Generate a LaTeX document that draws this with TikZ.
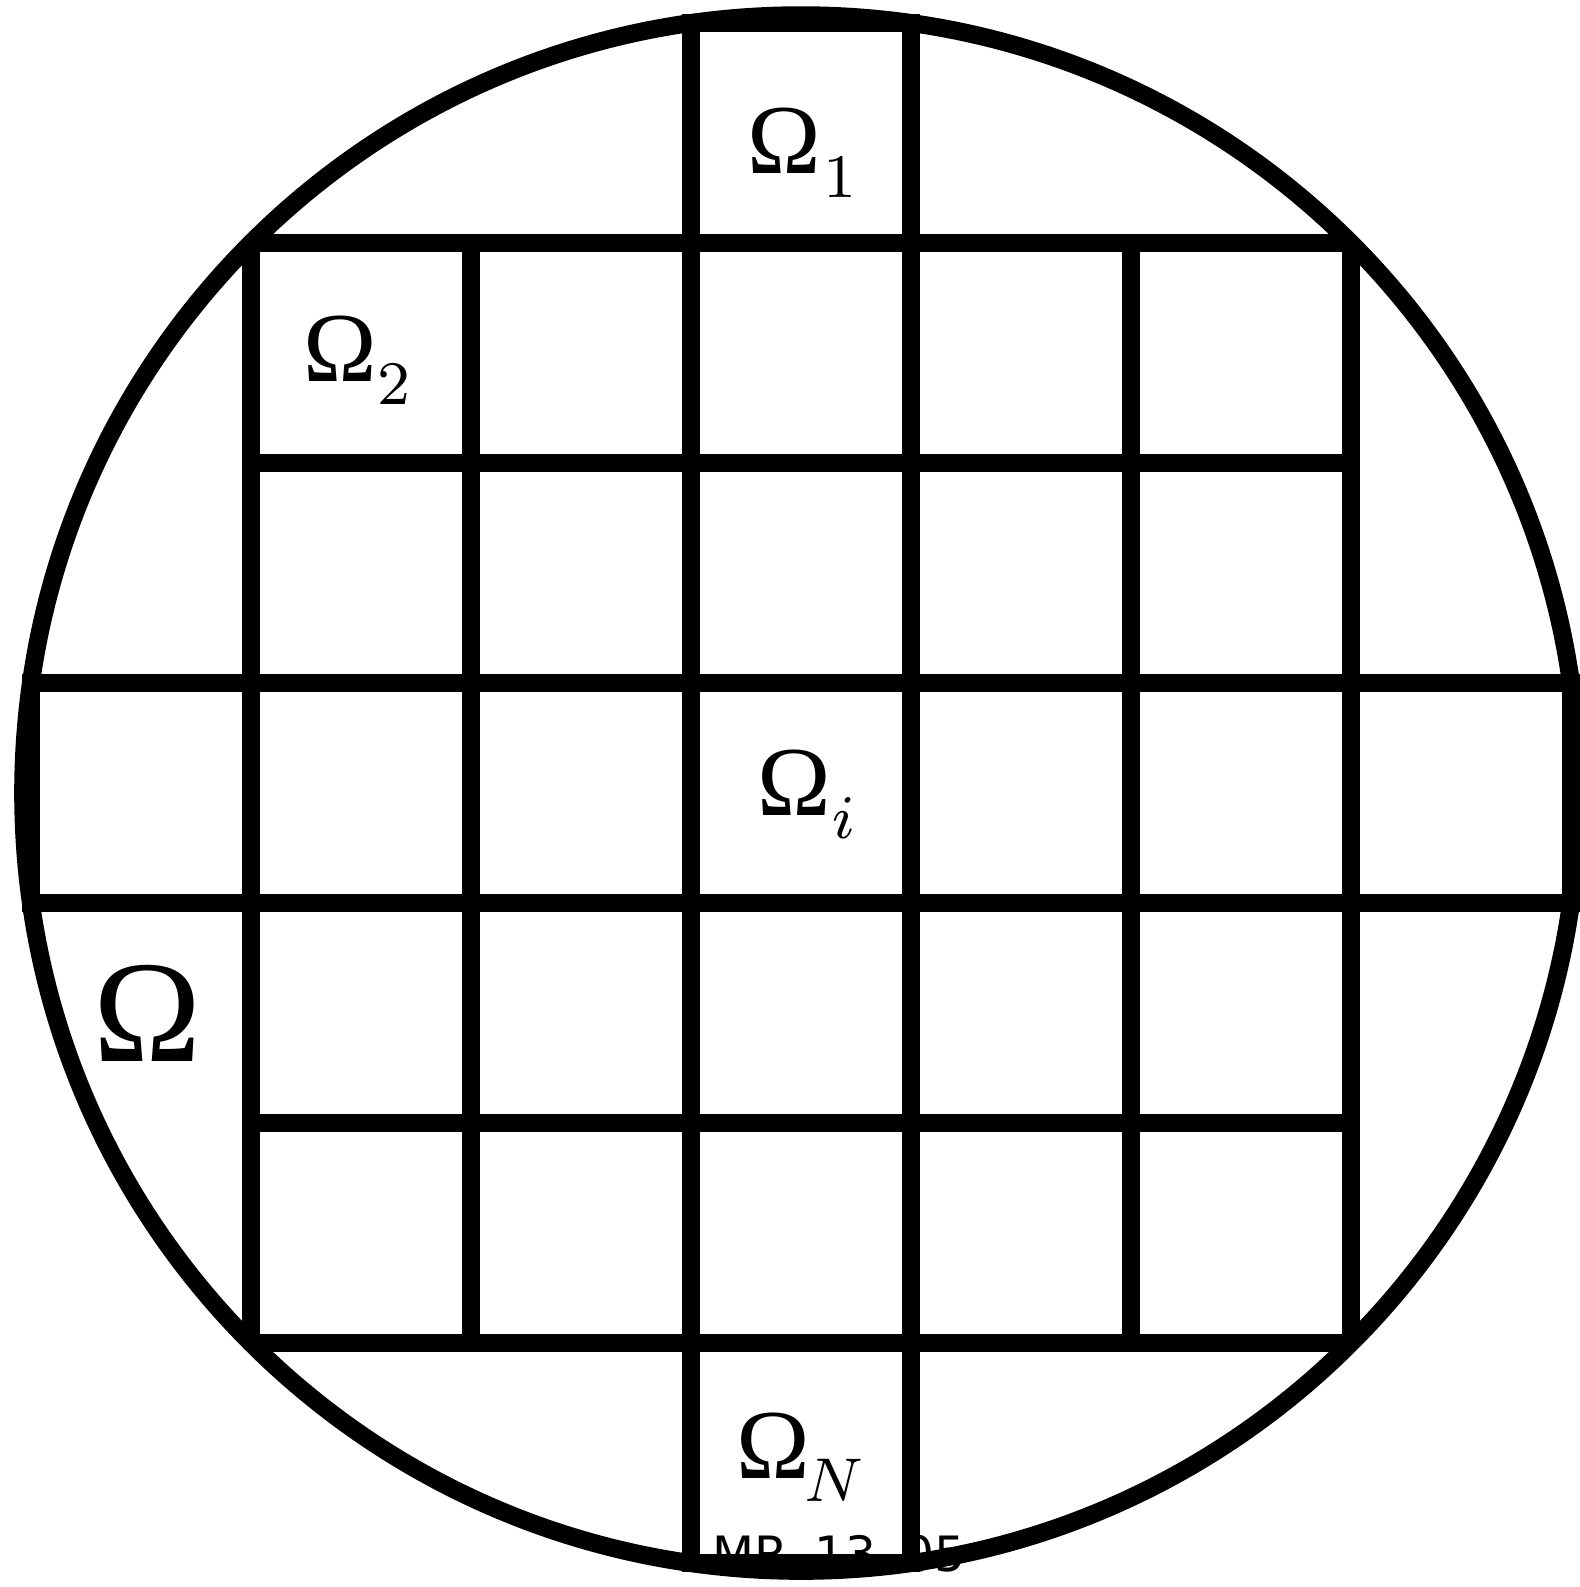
\documentclass[tikz,border=0pt]{standalone}
\usepackage{fontspec}
\usepackage{amsmath}
\usetikzlibrary{positioning}
\newfontfamily\stampfont{DejaVu Sans}
\newfontfamily\omfont{Liberation Serif}

% subdomain label: Omega with a lowered subscript
\newcommand{\subdom}[2][0pt]{{\omfont\fontsize{12.8}{15}\selectfont Ω}\kern#1\raisebox{-3pt}{\fontsize{8.4}{10}\selectfont$#2$}}

\tikzset{
  wall/.style={line width=0.0818cm, black},
  sublbl/.style={inner sep=0pt, anchor=base west},
  biglbl/.style={inner sep=0pt, anchor=base west, font=\omfont\fontsize{18.8}{22}\selectfont}
}

\begin{document}
\begin{tikzpicture}
  \useasboundingbox (-3.641,-3.609) rectangle (3.541,3.605);

  % Stamp (partly hidden by the walls)
  \node[inner sep=0pt, anchor=north west, font=\stampfont\fontsize{6.3}{8}\selectfont]
    (stamp) at (-0.41,-3.365) {MR\hspace{0.55em}13\hspace{0.55em}05};

  % Domain
  \draw[wall] (0,0) circle ({sqrt(12.5)});

  % Cross arms
  \draw[wall] (-0.5,-3.5) rectangle (0.5,3.5);
  \draw[wall] (-3.5,-0.5) rectangle (3.5,0.5);

  % Inner grid
  \draw[wall, shift={(-2.5,-2.5)}] (0,0) grid (5,5);

  % Subdomains
  \node[sublbl] (om1) at (-0.25,2.814) {\subdom[0.3pt]{1}};
  \node[sublbl] (om2) at (-2.27,1.873) {\subdom[0.05pt]{2}};
  \node[sublbl] (omi) at (-0.206,-0.1) {\subdom[0.2pt]{i}};
  \node[sublbl] (omN) at (-0.302,-3.114) {\subdom[-0.7pt]{N}};
  \node[biglbl] (om) at (-3.225,-1.218) {Ω};
\end{tikzpicture}
\end{document}
